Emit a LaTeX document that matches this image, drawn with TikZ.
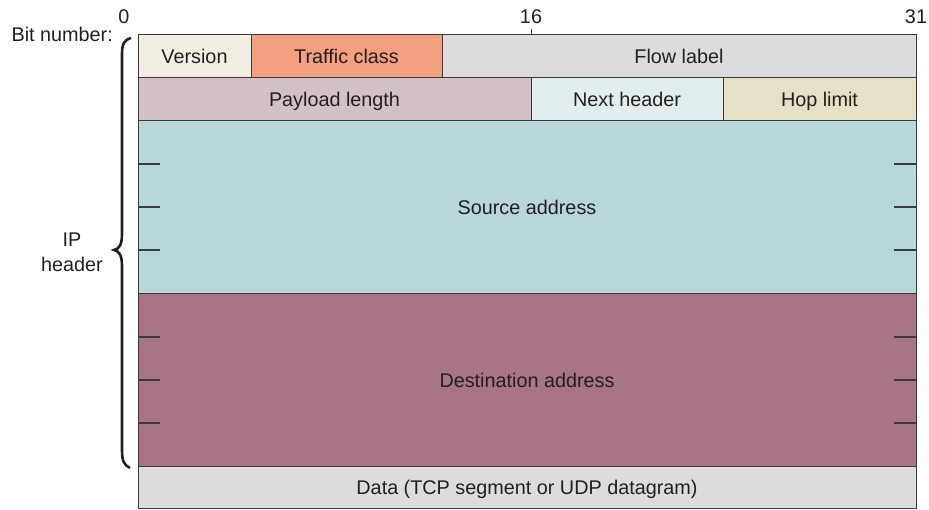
\documentclass[tikz,border=0pt]{standalone}
\usepackage{fontspec}
\setmainfont{Liberation Sans}
\definecolor{cver}{HTML}{F2EFE2}
\definecolor{ctc}{HTML}{F4A080}
\definecolor{cflow}{HTML}{DCDCDE}
\definecolor{cpay}{HTML}{D4C0C7}
\definecolor{cnext}{HTML}{E2EEEE}
\definecolor{chop}{HTML}{E6E0C6}
\definecolor{csrc}{HTML}{B7D7D8}
\definecolor{cdst}{HTML}{A87586}
\definecolor{cdata}{HTML}{DCDCDE}
\definecolor{cline}{HTML}{3A3A3A}
\definecolor{ctext}{HTML}{231F20}
\begin{document}
\begin{tikzpicture}[x=1pt,y=-1pt,
  field/.style={draw=cline, line width=1pt, inner sep=0pt, outer sep=0pt, anchor=north west,
    font=\fontsize{19.8}{22}\selectfont, text=ctext, text height=14.5pt, text depth=0pt},
  tick/.style={draw=cline, line width=1.2pt},
  lbl/.style={font=\fontsize{19.8}{22}\selectfont, text=ctext, inner sep=0pt}]
\useasboundingbox (0,0) rectangle (929,510);
% row 1
\node[field, fill=cver, minimum width=113, minimum height=43] (ver) at (138,35) {Version};
\node[field, fill=ctc, minimum width=191, minimum height=43] (tc) at (251,35) {Traffic class};
\node[field, fill=cflow, minimum width=474, minimum height=43] (flow) at (442,35) {Flow label};
% row 2
\node[field, fill=cpay, minimum width=393, minimum height=43] (pay) at (138,78) {Payload length};
\node[field, fill=cnext, minimum width=192, minimum height=43] (next) at (531,78) {Next header};
\node[field, fill=chop, minimum width=193, minimum height=43] (hop) at (723,78) {Hop limit};
% source / dest
\node[field, fill=csrc, minimum width=778, minimum height=173] (src) at (138,121) {Source address};
\node[field, fill=cdst, minimum width=778, minimum height=172] (dst) at (138,294) {Destination address};
\node[field, fill=cdata, minimum width=778, minimum height=42] (data) at (138,466) {Data (TCP segment or UDP datagram)};
% word ticks
\foreach \y in {164,207,250,337,380,423}{
  \draw[tick] (138,\y) -- (160,\y);
  \draw[tick] (894,\y) -- (916,\y);
}
% bit numbers
\node[lbl] (b0) at (124,17) {0};
\node[lbl] (b16) at (531,17) {16};
\node[lbl] (b31) at (916,17) {31};
\draw[line width=0.8pt, draw=cline] (531,29) -- (531,35);
\node[lbl, anchor=east] (bitnum) at (113,34) {Bit number:};
% brace
\draw[line width=2.6pt, draw=ctext] (131,38) .. controls (124,40) and (122,44) .. (122,54)
  -- (122,234) .. controls (122,245) and (119,249) .. (114,250)
  .. controls (119,251) and (122,255) .. (122,266)
  -- (122,450) .. controls (122,461) and (124,465) .. (130,468);
\node[lbl, align=center] (iph) at (72,252) {IP\\[3pt]header};
\end{tikzpicture}
\end{document}
